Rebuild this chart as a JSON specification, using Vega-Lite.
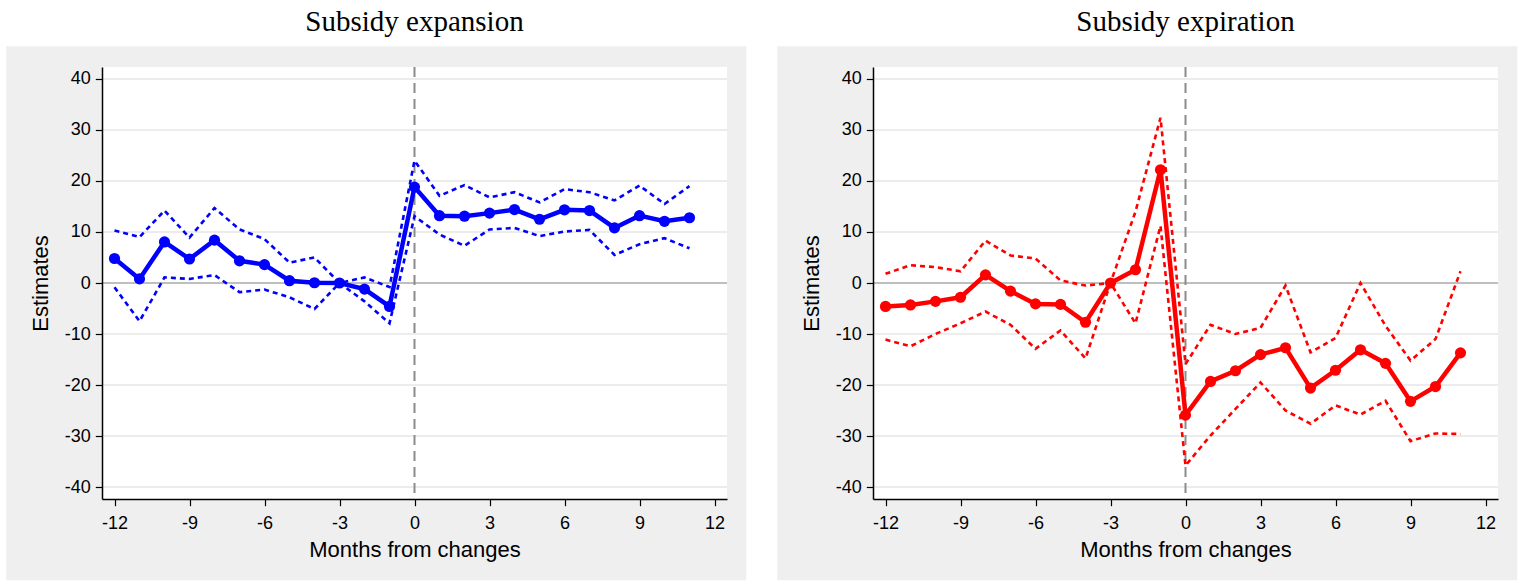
{
  "$schema": "https://vega.github.io/schema/vega-lite/v6.json",
  "background": "white",
  "padding": {"left": 6, "top": 8, "right": 5, "bottom": 2},
  "spacing": 30,
  "datasets": {
    "expansion": [
      {"month": -12, "est": 4.8, "lo": -0.85, "hi": 10.3},
      {"month": -11, "est": 0.8, "lo": -7.5, "hi": 9.0},
      {"month": -10, "est": 8.05, "lo": 1.1, "hi": 14.2},
      {"month": -9, "est": 4.7, "lo": 0.8, "hi": 8.9},
      {"month": -8, "est": 8.4, "lo": 1.55, "hi": 14.7},
      {"month": -7, "est": 4.35, "lo": -1.8, "hi": 10.5},
      {"month": -6, "est": 3.6, "lo": -1.3, "hi": 8.6},
      {"month": -5, "est": 0.45, "lo": -2.8, "hi": 4.0},
      {"month": -4, "est": 0.05, "lo": -5.1, "hi": 5.0},
      {"month": -3, "est": 0, "lo": 0, "hi": 0},
      {"month": -2, "est": -1.2, "lo": -3.6, "hi": 1.1},
      {"month": -1, "est": -4.6, "lo": -7.9, "hi": -0.8},
      {"month": 0, "est": 18.8, "lo": 13.1, "hi": 24.0},
      {"month": 1, "est": 13.2, "lo": 9.5, "hi": 17.1},
      {"month": 2, "est": 13.1, "lo": 7.3, "hi": 19.2},
      {"month": 3, "est": 13.7, "lo": 10.5, "hi": 16.8},
      {"month": 4, "est": 14.4, "lo": 10.8, "hi": 17.8},
      {"month": 5, "est": 12.5, "lo": 9.2, "hi": 15.8},
      {"month": 6, "est": 14.35, "lo": 10.1, "hi": 18.4},
      {"month": 7, "est": 14.2, "lo": 10.4, "hi": 17.8},
      {"month": 8, "est": 10.8, "lo": 5.5, "hi": 16.2},
      {"month": 9, "est": 13.2, "lo": 7.6, "hi": 19.1},
      {"month": 10, "est": 12.1, "lo": 8.8, "hi": 15.5},
      {"month": 11, "est": 12.8, "lo": 6.8, "hi": 19.0}
    ],
    "expiration": [
      {"month": -12, "est": -4.6, "lo": -11.1, "hi": 1.8},
      {"month": -11, "est": -4.3, "lo": -12.4, "hi": 3.5},
      {"month": -10, "est": -3.6, "lo": -10.0, "hi": 3.1},
      {"month": -9, "est": -2.8, "lo": -7.9, "hi": 2.3},
      {"month": -8, "est": 1.6, "lo": -5.6, "hi": 8.3},
      {"month": -7, "est": -1.6, "lo": -8.2, "hi": 5.4},
      {"month": -6, "est": -4.1, "lo": -12.9, "hi": 4.8},
      {"month": -5, "est": -4.2, "lo": -9.3, "hi": 0.5},
      {"month": -4, "est": -7.7, "lo": -14.8, "hi": -0.5},
      {"month": -3, "est": 0, "lo": 0, "hi": 0},
      {"month": -2, "est": 2.6, "lo": -7.9, "hi": 14.0},
      {"month": -1, "est": 22.2, "lo": 11.2, "hi": 32.4},
      {"month": 0, "est": -25.9, "lo": -35.8, "hi": -15.9},
      {"month": 1, "est": -19.3, "lo": -29.9, "hi": -8.2},
      {"month": 2, "est": -17.2, "lo": -24.7, "hi": -10.0},
      {"month": 3, "est": -14.05, "lo": -19.5, "hi": -8.8},
      {"month": 4, "est": -12.7, "lo": -25.0, "hi": -0.5},
      {"month": 5, "est": -20.6, "lo": -27.6, "hi": -13.6},
      {"month": 6, "est": -17.1, "lo": -24.0, "hi": -10.8},
      {"month": 7, "est": -13.1, "lo": -25.8, "hi": 0.0},
      {"month": 8, "est": -15.75, "lo": -23.1, "hi": -8.4},
      {"month": 9, "est": -23.2, "lo": -31.0, "hi": -15.2},
      {"month": 10, "est": -20.3, "lo": -29.5, "hi": -11.0},
      {"month": 11, "est": -13.7, "lo": -29.6, "hi": 2.3}
    ],
    "levels": [
      {"level": -40}, {"level": -30}, {"level": -20}, {"level": -10},
      {"level": 10}, {"level": 20}, {"level": 30}, {"level": 40}
    ]
  },
  "config": {
    "view": {"stroke": null},
    "font": "Liberation Sans",
    "title": {
      "font": "Liberation Serif",
      "fontSize": 29,
      "fontWeight": "normal",
      "color": "black",
      "offset": 9,
      "frame": "group",
      "anchor": "middle"
    },
    "axis": {
      "grid": false,
      "domainColor": "black",
      "domainWidth": 1.5,
      "tickColor": "black",
      "tickWidth": 1.2,
      "tickSize": 6.7,
      "labelFont": "Liberation Sans",
      "labelFontSize": 18,
      "labelColor": "black",
      "labelFlush": false,
      "labelBound": false,
      "labelOverlap": false,
      "titleFont": "Liberation Sans",
      "titleFontSize": 22,
      "titleFontWeight": "normal",
      "titleColor": "black",
      "labelExpr": "'' + datum.value"
    },
    "axisX": {"labelPadding": 9, "titlePadding": 7},
    "axisY": {"labelPadding": 5, "titlePadding": 12}
  },
  "hconcat": [
    {
      "title": {"text": "Subsidy expansion"},
      "width": 625,
      "height": 432,
      "layer": [
        {
          "data": {"values": [{}]},
          "mark": {"type": "rect", "color": "#efefef"},
          "encoding": {
            "x": {"datum": -16.33, "type": "quantitative", "scale": {"domain": [-12.5, 12.5], "nice": false, "zero": false}},
            "x2": {"datum": 13.27},
            "y": {"datum": 46.4, "type": "quantitative", "scale": {"domain": [-42.35, 42.35], "nice": false, "zero": false}},
            "y2": {"datum": -58.3}
          }
        },
        {
          "data": {"values": [{}]},
          "mark": {"type": "rect", "color": "white"},
          "encoding": {
            "x": {"datum": -12.5, "type": "quantitative"},
            "x2": {"datum": 12.5},
            "y": {"datum": 42.35, "type": "quantitative"},
            "y2": {"datum": -42.35}
          }
        },
        {
          "data": {"name": "levels"},
          "mark": {"type": "rule", "color": "#e6e6e6", "strokeWidth": 1.5},
          "encoding": {"y": {"field": "level", "type": "quantitative"}}
        },
        {
          "data": {"values": [{}]},
          "mark": {"type": "rule", "color": "#808080", "strokeWidth": 1.2},
          "encoding": {"y": {"datum": 0, "type": "quantitative"}}
        },
        {
          "data": {"values": [{}]},
          "mark": {"type": "rule", "color": "#8c8c8c", "strokeWidth": 2, "strokeDash": [10, 6]},
          "encoding": {"x": {"datum": 0, "type": "quantitative"}}
        },
        {
          "data": {"name": "expansion"},
          "transform": [{"fold": ["lo", "hi"], "as": ["bound", "value"]}],
          "mark": {"type": "line", "color": "#0000ff", "strokeWidth": 2.6, "strokeDash": [5, 4]},
          "encoding": {
            "x": {"field": "month", "type": "quantitative"},
            "y": {"field": "value", "type": "quantitative"},
            "detail": {"field": "bound"}
          }
        },
        {
          "data": {"name": "expansion"},
          "mark": {"type": "line", "color": "#0000ff", "strokeWidth": 4.5, "point": {"filled": true, "size": 125, "color": "#0000ff"}},
          "encoding": {
            "x": {"field": "month", "type": "quantitative", "scale": {"domain": [-12.5, 12.5], "nice": false, "zero": false},
                  "axis": {"title": "Months from changes", "zindex": 1, "values": [-12, -9, -6, -3, 0, 3, 6, 9, 12]}},
            "y": {"field": "est", "type": "quantitative", "scale": {"domain": [-42.35, 42.35], "nice": false, "zero": false},
                  "axis": {"title": "Estimates", "zindex": 1, "values": [-40, -30, -20, -10, 0, 10, 20, 30, 40]}}
          }
        }
      ]
    },
    {
      "title": {"text": "Subsidy expiration"},
      "width": 625,
      "height": 432,
      "layer": [
        {
          "data": {"values": [{}]},
          "mark": {"type": "rect", "color": "#efefef"},
          "encoding": {
            "x": {"datum": -16.33, "type": "quantitative", "scale": {"domain": [-12.5, 12.5], "nice": false, "zero": false}},
            "x2": {"datum": 13.27},
            "y": {"datum": 46.4, "type": "quantitative", "scale": {"domain": [-42.35, 42.35], "nice": false, "zero": false}},
            "y2": {"datum": -58.3}
          }
        },
        {
          "data": {"values": [{}]},
          "mark": {"type": "rect", "color": "white"},
          "encoding": {
            "x": {"datum": -12.5, "type": "quantitative"},
            "x2": {"datum": 12.5},
            "y": {"datum": 42.35, "type": "quantitative"},
            "y2": {"datum": -42.35}
          }
        },
        {
          "data": {"name": "levels"},
          "mark": {"type": "rule", "color": "#e6e6e6", "strokeWidth": 1.5},
          "encoding": {"y": {"field": "level", "type": "quantitative"}}
        },
        {
          "data": {"values": [{}]},
          "mark": {"type": "rule", "color": "#808080", "strokeWidth": 1.2},
          "encoding": {"y": {"datum": 0, "type": "quantitative"}}
        },
        {
          "data": {"values": [{}]},
          "mark": {"type": "rule", "color": "#8c8c8c", "strokeWidth": 2, "strokeDash": [10, 6]},
          "encoding": {"x": {"datum": 0, "type": "quantitative"}}
        },
        {
          "data": {"name": "expiration"},
          "transform": [{"fold": ["lo", "hi"], "as": ["bound", "value"]}],
          "mark": {"type": "line", "color": "#ff0000", "strokeWidth": 2.6, "strokeDash": [5, 4]},
          "encoding": {
            "x": {"field": "month", "type": "quantitative"},
            "y": {"field": "value", "type": "quantitative"},
            "detail": {"field": "bound"}
          }
        },
        {
          "data": {"name": "expiration"},
          "mark": {"type": "line", "color": "#ff0000", "strokeWidth": 4.5, "point": {"filled": true, "size": 125, "color": "#ff0000"}},
          "encoding": {
            "x": {"field": "month", "type": "quantitative", "scale": {"domain": [-12.5, 12.5], "nice": false, "zero": false},
                  "axis": {"title": "Months from changes", "zindex": 1, "values": [-12, -9, -6, -3, 0, 3, 6, 9, 12]}},
            "y": {"field": "est", "type": "quantitative", "scale": {"domain": [-42.35, 42.35], "nice": false, "zero": false},
                  "axis": {"title": "Estimates", "zindex": 1, "values": [-40, -30, -20, -10, 0, 10, 20, 30, 40]}}
          }
        }
      ]
    }
  ]
}
